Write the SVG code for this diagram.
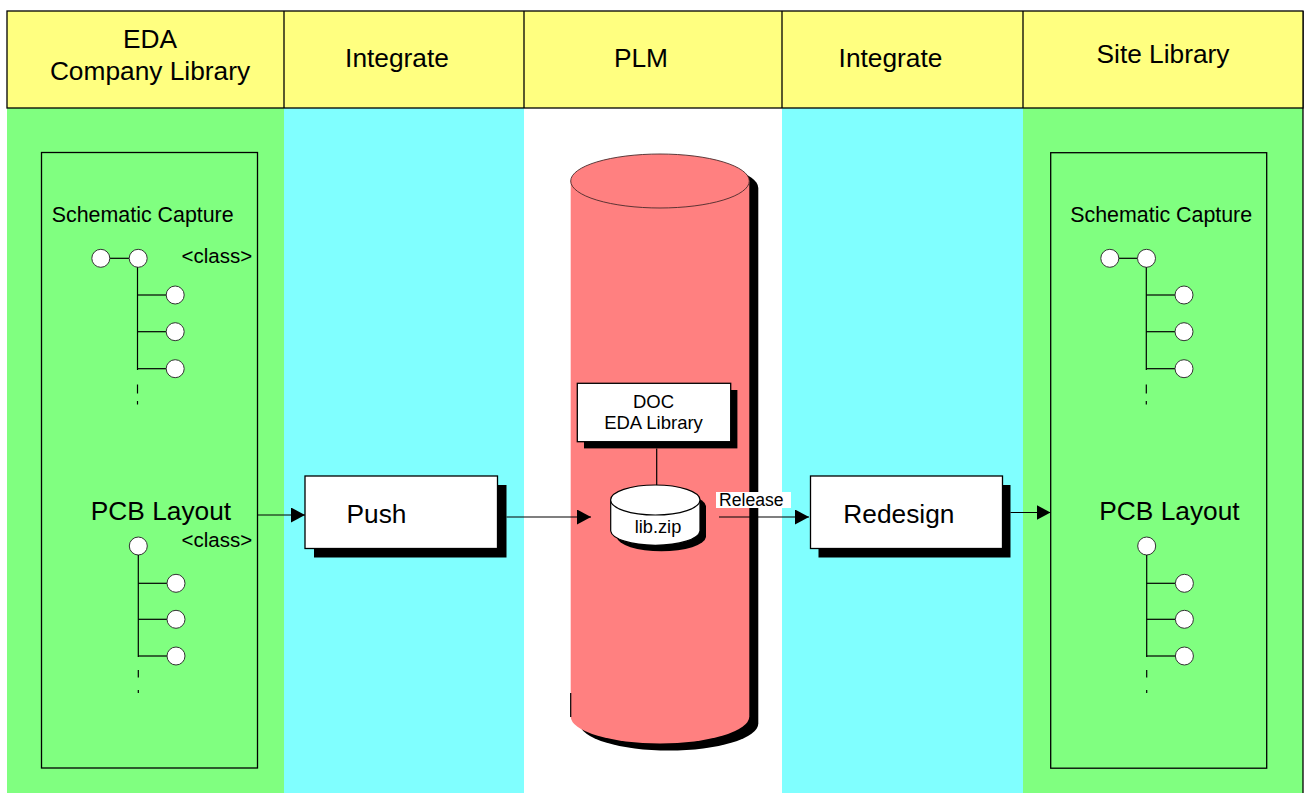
<svg xmlns="http://www.w3.org/2000/svg" width="1306" height="793" viewBox="0 0 1306 793">
  <defs>
    <style>
      .t{font-family:"Liberation Sans",Arial,Helvetica,sans-serif;fill:#000}
      .hd{font-size:26.3px;text-anchor:middle}
      .big{font-size:26.3px}
      .mid{font-size:21.4px}
      .sm{font-size:18.5px;text-anchor:middle}
      .ln{stroke:#000;stroke-width:1.3;fill:none}
      .thin{stroke:#000;stroke-width:1.2;fill:none}
      .nd{fill:#fff;stroke:#333;stroke-width:1}
      .box{fill:#fff;stroke:#000;stroke-width:1.3}
      .sh{fill:#000}
    </style>
    <marker id="ah" markerUnits="userSpaceOnUse" markerWidth="14" markerHeight="15" refX="14" refY="7.5" orient="auto">
      <path d="M0,0 L14,7.5 L0,15 Z" fill="#000"/>
    </marker>
    <g id="tree3">
      <line class="thin" x1="0" y1="0" x2="28.7" y2="0"/>
      <circle class="nd" cx="37.7" cy="0" r="9"/>
    </g>
  </defs>

  <rect width="1306" height="793" fill="#fff"/>

  <g id="lanes">
    <rect x="7" y="108" width="277" height="685" fill="#80FF80"/>
    <rect x="284" y="108" width="240" height="685" fill="#80FFFF"/>
    <rect x="782" y="108" width="241" height="685" fill="#80FFFF"/>
    <rect x="1023" y="108" width="280" height="685" fill="#80FF80"/>
    <line class="ln" x1="1303" y1="11" x2="1303" y2="793"/>
  </g>

  <g id="header">
    <rect x="7" y="11" width="1296" height="97" fill="#FFFF80" stroke="#000" stroke-width="1.3"/>
    <line class="ln" x1="284" y1="11" x2="284" y2="108"/>
    <line class="ln" x1="524" y1="11" x2="524" y2="108"/>
    <line class="ln" x1="782" y1="11" x2="782" y2="108"/>
    <line class="ln" x1="1023" y1="11" x2="1023" y2="108"/>
    <text class="t hd" x="150" y="48">EDA</text>
    <text class="t hd" x="150" y="80">Company Library</text>
    <text class="t hd" x="397" y="67">Integrate</text>
    <text class="t hd" x="641" y="67">PLM</text>
    <text class="t hd" x="890.5" y="67">Integrate</text>
    <text class="t hd" x="1163" y="63">Site Library</text>
  </g>

  <g id="eda-company-library">
    <rect class="ln" x="41.5" y="152.5" width="216" height="615.5"/>
    <text class="t mid" x="142.7" y="221.7" text-anchor="middle">Schematic Capture</text>
    <line class="thin" x1="109.8" y1="258.3" x2="129.2" y2="258.3"/>
    <circle class="nd" cx="100.8" cy="258.3" r="9"/>
    <circle class="nd" cx="138.2" cy="258.3" r="9"/>
    <line class="thin" x1="137.5" y1="267.3" x2="137.5" y2="370"/>
    <use href="#tree3" x="137.5" y="295"/>
    <use href="#tree3" x="137.5" y="331.7"/>
    <use href="#tree3" x="137.5" y="368.7"/>
    <line class="thin" x1="137.5" y1="384.5" x2="137.5" y2="393.5"/>
    <line class="thin" x1="137.5" y1="401" x2="137.5" y2="404.5"/>
    <text class="t" x="181.5" y="263.3" font-size="20.5">&lt;class&gt;</text>

    <text class="t big" x="161" y="520" text-anchor="middle">PCB Layout</text>
    <circle class="nd" cx="138.3" cy="546" r="9"/>
    <line class="thin" x1="138.3" y1="555" x2="138.3" y2="657"/>
    <use href="#tree3" x="138.3" y="583.3"/>
    <use href="#tree3" x="138.3" y="619.3"/>
    <use href="#tree3" x="138.3" y="656"/>
    <line class="thin" x1="138.3" y1="670" x2="138.3" y2="677.5"/>
    <line class="thin" x1="138.3" y1="690" x2="138.3" y2="693"/>
    <text class="t" x="181.5" y="547.3" font-size="20.5">&lt;class&gt;</text>
  </g>

  <g id="push">
    <rect class="sh" x="314" y="485" width="192.5" height="72.5"/>
    <rect class="box" x="305" y="476" width="192.5" height="72.5"/>
    <text class="t big" x="346.5" y="522.5">Push</text>
  </g>

  <g id="plm-database">
    <path class="sh" d="M579.7,188 L579.7,723.5 A89.3,27 0 0 0 758.3,723.5 L758.3,188 A89.3,27 0 0 0 579.7,188 Z"/>
    <path d="M570.7,181 L570.7,716.5 A89.3,27 0 0 0 749.3,716.5 L749.3,181 Z" fill="#FF8080"/>
    <line x1="570.7" y1="693" x2="570.7" y2="717" stroke="#000" stroke-width="1.2"/>
    <ellipse cx="660" cy="181" rx="89.3" ry="27" fill="#FF8080" stroke="#4a2a2a" stroke-width="0.9"/>
  </g>

  <g id="doc-eda-library">
    <rect class="sh" x="584" y="390" width="153.4" height="58.4"/>
    <rect class="box" x="577.3" y="383.3" width="153.4" height="58.4"/>
    <text class="t sm" x="653.5" y="407.5">DOC</text>
    <text class="t sm" x="653.5" y="429.3">EDA Library</text>
  </g>

  <g id="lib-zip">
    <path class="sh" d="M616.7,506 L616.7,537 A44.7,15 0 0 0 706,537 L706,506 A44.7,15 0 0 0 616.7,506 Z"/>
    <path d="M610.7,500 L610.7,531 A44.7,15 0 0 0 700,531 L700,500" fill="#fff" stroke="#000" stroke-width="1.2"/>
    <ellipse cx="655.3" cy="500" rx="44.7" ry="15" fill="#fff" stroke="#000" stroke-width="1.2"/>
    <text class="t" x="658" y="533.3" font-size="18.2" text-anchor="middle">lib.zip</text>
  </g>

  <g id="redesign">
    <rect class="sh" x="818.5" y="485" width="192" height="72.5"/>
    <rect class="box" x="810.5" y="476" width="192" height="72.5"/>
    <text class="t big" x="843.3" y="522.5">Redesign</text>
  </g>

  <g id="site-library">
    <rect class="ln" x="1050.7" y="152.7" width="216" height="615.5"/>
    <text class="t mid" x="1161.2" y="221.7" text-anchor="middle">Schematic Capture</text>
    <line class="thin" x1="1118.8" y1="258.3" x2="1137.5" y2="258.3"/>
    <circle class="nd" cx="1109.8" cy="258.3" r="9"/>
    <circle class="nd" cx="1146.5" cy="258.3" r="9"/>
    <line class="thin" x1="1146.3" y1="267.3" x2="1146.3" y2="370"/>
    <use href="#tree3" x="1146.3" y="295"/>
    <use href="#tree3" x="1146.3" y="331.7"/>
    <use href="#tree3" x="1146.3" y="368.7"/>
    <line class="thin" x1="1146.3" y1="384.5" x2="1146.3" y2="393.5"/>
    <line class="thin" x1="1146.3" y1="401" x2="1146.3" y2="404.5"/>

    <text class="t big" x="1169.5" y="520" text-anchor="middle">PCB Layout</text>
    <circle class="nd" cx="1146.7" cy="546" r="9"/>
    <line class="thin" x1="1146.7" y1="555" x2="1146.7" y2="657"/>
    <use href="#tree3" x="1146.7" y="583.3"/>
    <use href="#tree3" x="1146.7" y="619.3"/>
    <use href="#tree3" x="1146.7" y="656"/>
    <line class="thin" x1="1146.7" y1="670" x2="1146.7" y2="677.5"/>
    <line class="thin" x1="1146.7" y1="690" x2="1146.7" y2="693"/>
  </g>

  <g id="connectors">
    <line class="thin" x1="257.5" y1="515" x2="305" y2="515" marker-end="url(#ah)"/>
    <line class="thin" x1="506.5" y1="517" x2="591" y2="517" marker-end="url(#ah)"/>
    <line class="thin" x1="656.7" y1="448.4" x2="656.7" y2="485"/>
    <line class="thin" x1="719" y1="517" x2="809" y2="517" marker-end="url(#ah)"/>
    <rect x="716" y="492" width="75" height="16" fill="#fff"/>
    <text class="t" x="719" y="506.3" font-size="17.6">Release</text>
    <line class="thin" x1="1010.5" y1="512.5" x2="1050.5" y2="512.5" marker-end="url(#ah)"/>
  </g>
</svg>
